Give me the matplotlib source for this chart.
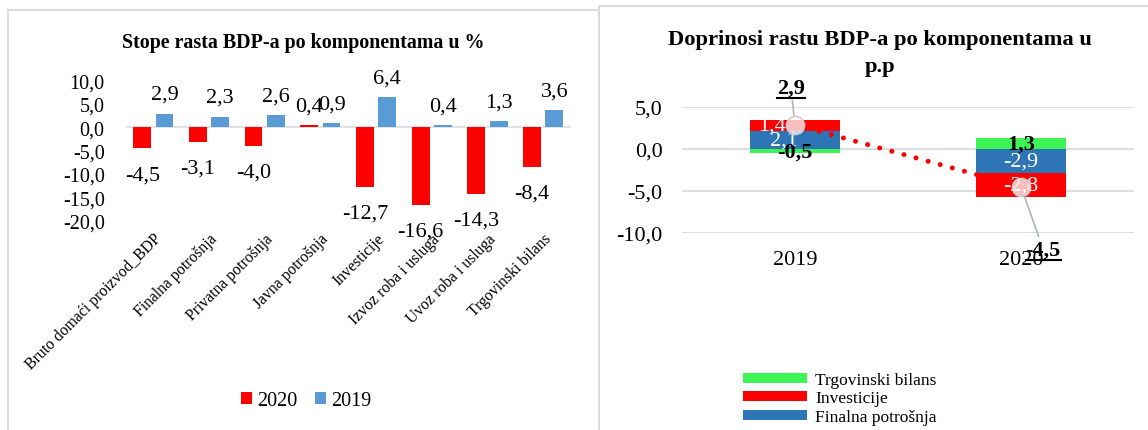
import matplotlib

matplotlib.use("Agg")
import matplotlib.pyplot as plt
import matplotlib.text as mtext
from matplotlib.lines import Line2D

plt.rcParams.update({
    "font.family": ["Liberation Serif", "DejaVu Serif"],
    "axes.spines.top": False,
    "axes.spines.right": False,
    "axes.spines.left": False,
    "axes.spines.bottom": False,
})

# lijevi grafikon: stope rasta BDP-a po komponentama (%)
kategorije = ["Bruto domaći proizvod_BDP", "Finalna potrošnja", "Privatna potrošnja",
              "Javna potrošnja", "Investicije", "Izvoz roba i usluga",
              "Uvoz roba i usluga", "Trgovinski bilans"]
rast_2020 = [-4.5, -3.1, -4.0, 0.4, -12.7, -16.6, -14.3, -8.4]
rast_2019 = [2.9, 2.3, 2.6, 0.9, 6.4, 0.4, 1.3, 3.6]
y_ticks_l = [10, 5, 0, -5, -10, -15, -20]

# desni grafikon: doprinosi rastu BDP-a (p.p)
godine = ["2019", "2020"]
finalna = [2.1, -2.9]
investicije = [1.4, -2.8]
trgovinski = [-0.5, 1.3]
bdp = [2.9, -4.5]
y_ticks_r = [5, 0, -5, -10]

RED = "#FF0000"
BLUE_L = "#5B9BD5"
BLUE_R = "#2E75B6"
GREEN = "#3EF556"
GRID = "#D9DDE3"


def fmt(v):
    return f"{v:.1f}".replace(".", ",")


W, H = 1148, 431
fig = plt.figure(figsize=(W / 100, H / 100), dpi=100)


def box(x0, x1, y0, y1):
    return [x0 / W, 1 - y1 / H, (x1 - x0) / W, (y1 - y0) / H]


# okviri panela
fig.add_artist(Line2D([8 / W, 599 / W], [1 - 11 / H, 1 - 11 / H], color=GRID, lw=1.5))
fig.add_artist(Line2D([8 / W, 8 / W], [0, 1 - 11 / H], color=GRID, lw=1.5))
fig.add_artist(Line2D([599 / W, 1], [1 - 7 / H, 1 - 7 / H], color=GRID, lw=1.5))
fig.add_artist(Line2D([599 / W, 599 / W], [0, 1 - 7 / H], color=GRID, lw=1.5))

# ---------------- lijevo ----------------
ax = fig.add_axes(box(125.5, 571, 81.6, 221.7))
x = list(range(len(kategorije)))
w = 0.32
b20 = ax.bar([i - 0.2 for i in x], rast_2020, w, color=RED, label="2020", zorder=2)
b19 = ax.bar([i + 0.2 for i in x], rast_2019, w, color=BLUE_L, label="2019", zorder=2)
ax.axhline(0, color=GRID, lw=1.2, zorder=1)
ax.set_xlim(-0.5, len(kategorije) - 0.5)
ax.set_ylim(-20, 10)
ax.set_yticks(y_ticks_l)
ax.set_yticklabels([fmt(v) for v in y_ticks_l], fontsize=14.5)
ax.tick_params(axis="y", length=0, pad=15)
ax.set_xticks(x)
ax.set_xticklabels(kategorije, rotation=45, ha="right", rotation_mode="anchor", fontsize=11.3)
ax.tick_params(axis="x", length=0, pad=7)
for bars, vals in ((b20, rast_2020), (b19, rast_2019)):
    for rect, v in zip(bars, vals):
        off = 14 if v >= 0 else -19
        ax.annotate(fmt(v), (rect.get_x() + rect.get_width() / 2, v), xytext=(0, off),
                    textcoords="offset points", ha="center", va="center", fontsize=16,
                    annotation_clip=False)
fig.text(303 / W, 1 - 43 / H, "Stope rasta BDP-a po komponentama u %", ha="center",
         va="center", fontsize=14.4, fontweight="bold")
fig.legend(handles=[b20, b19], loc="center", bbox_to_anchor=(306 / W, 1 - 402 / H), ncol=2,
           frameon=False, fontsize=14.5, handlelength=0.55, handleheight=0.55,
           handletextpad=0.25, columnspacing=0.9)

# ---------------- desno ----------------
ax2 = fig.add_axes(box(682, 1134, 108, 234))
xr = list(range(len(godine)))
wr = 0.4
bar_fin = ax2.bar(xr, finalna, wr, color=BLUE_R, zorder=2, label="Finalna potrošnja")
bar_inv = ax2.bar(xr, investicije, wr, bottom=finalna, color=RED, zorder=2, label="Investicije")
bar_trg = ax2.bar(xr, trgovinski, wr, color=GREEN, zorder=2, label="Trgovinski bilans")
ax2.set_xlim(-0.5, 1.5)
ax2.set_ylim(-10, 5)
ax2.set_yticks(y_ticks_r)
ax2.set_yticklabels([fmt(v) for v in y_ticks_r], fontsize=16)
ax2.yaxis.grid(True, color=GRID, lw=1.4, zorder=0)
ax2.set_axisbelow(True)
ax2.tick_params(axis="y", length=0, pad=14)
ax2.set_xticks(xr)
ax2.set_xticklabels(godine, fontsize=16)
ax2.tick_params(axis="x", length=0, pad=12)

for i in xr:
    ax2.text(i - 0.05 * (i == 0), finalna[i] / 2, fmt(finalna[i]), ha="center", va="center",
             color="white", fontsize=16, zorder=4)
    ax2.text(i - 0.1 * (i == 0), finalna[i] + investicije[i] / 2, fmt(investicije[i]),
             ha="center", va="center", color="white", fontsize=16, zorder=4)
    ax2.text(i, trgovinski[i] / 2, fmt(trgovinski[i]), ha="center", va="center",
             color="black", fontsize=16, fontweight="bold", zorder=4)

ax2.plot(xr, bdp, color=RED, lw=3.6, linestyle=(0, (0.01, 2.5)), dash_capstyle="round",
         marker="o", markersize=13, markerfacecolor=(1, 1, 1, 0.75), markeredgecolor="#C8CDD5",
         markeredgewidth=1.2, zorder=5)

ann = []
for i, off in zip(xr, [(-3, 27), (16, -45)]):
    a = ax2.annotate(fmt(bdp[i]), (i, bdp[i]), xytext=off, textcoords="offset points",
                     ha="center", va="center", fontsize=16, fontweight="bold",
                     annotation_clip=False, zorder=6,
                     arrowprops=dict(arrowstyle="-", color="#AEB6C2", lw=1.2,
                                     shrinkA=0, shrinkB=7))
    ann.append(a)

fig.text(880 / W, 1 - 40 / H, "Doprinosi rastu BDP-a po komponentama u", ha="center",
         va="center", fontsize=16.2, fontweight="bold")
fig.text(880 / W, 1 - 67 / H, "p.p", ha="center", va="center", fontsize=16.2,
         fontweight="bold")

fig.legend(handles=[bar_trg, bar_inv, bar_fin], loc="upper left",
           bbox_to_anchor=(743 / W, 1 - 373 / H), frameon=False, fontsize=12.5,
           handlelength=3.7, handleheight=0.5, handletextpad=0.45, labelspacing=0.14,
           borderaxespad=0, borderpad=0)

# podvuci oznake ukupnog BDP-a
fig.canvas.draw()
r = fig.canvas.get_renderer()
inv = fig.transFigure.inverted()
for a in ann:
    bb = mtext.Text.get_window_extent(a, r)
    (x0, y0), (x1, _) = inv.transform([(bb.x0, bb.y0 - 1), (bb.x1, bb.y0 - 1)])
    fig.add_artist(Line2D([x0, x1], [y0, y0], color="black", lw=1.5))

fig.savefig("out.png", dpi=100)
